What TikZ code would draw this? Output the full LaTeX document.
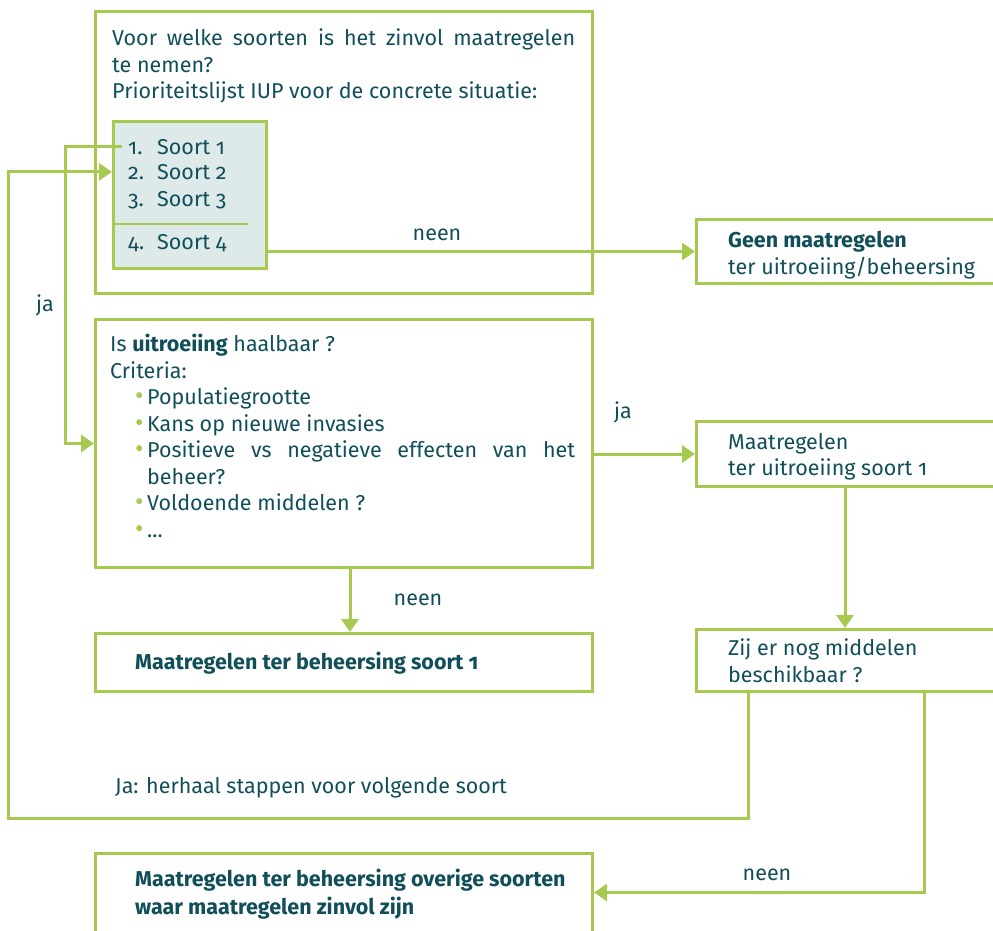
\documentclass[tikz,border=0pt]{standalone}
\usepackage{fontspec}
\setmainfont{Fira Sans}[Numbers=OldStyle]
\usetikzlibrary{arrows.meta}
\definecolor{lgreen}{RGB}{166,202,80}
\definecolor{dteal}{RGB}{16,78,90}
\definecolor{lfill}{RGB}{222,233,233}
\newcommand{\bul}{\hspace*{25pt}\makebox[12pt][l]{\textcolor{lgreen}{\fontsize{26}{26}\selectfont\textbullet}}}
\newcommand{\nr}[1]{\makebox[29pt][l]{#1.}}

\begin{document}
\begin{tikzpicture}[x=1pt, y=-1pt,
    box/.style={draw=lgreen, line width=3pt, inner sep=0pt, anchor=north west},
    txt/.style={text=dteal, inner sep=0pt, anchor=north west, align=left, font=\fontsize{21.5}{26.5}\selectfont},
    lbl/.style={text=dteal, inner sep=0pt, font=\fontsize{21.5}{26}\selectfont},
    flow/.style={draw=lgreen, line width=3pt, -{Triangle[length=13pt,width=17pt]}}]
    \useasboundingbox (0,0) rectangle (993,931);
    \clip (0,0) rectangle (993,931);

    % boxes
    \draw (94,10) node[box, minimum width=497pt, minimum height=282pt] (soorten) {};
    \draw (112,120) node[box, fill=lfill, minimum width=153pt, minimum height=147pt] (lijst) {};
    \draw (695,218) node[box, minimum width=305pt, minimum height=64pt] (geen) {};
    \draw (94,318) node[box, minimum width=497pt, minimum height=248pt] (haalbaar) {};
    \draw (695,420) node[box, minimum width=305pt, minimum height=65pt] (uitroeiing) {};
    \draw (695,628) node[box, minimum width=305pt, minimum height=62pt] (middelen) {};
    \draw (94,632) node[box, minimum width=497pt, minimum height=58pt] (beheersing) {};
    \draw (94,852) node[box, minimum width=497pt, minimum height=82pt] (overige) {};

    % texts
    \node[txt] (vraag) at (112,29) {\makebox[463pt][s]{Voor welke soorten is het zinvol maatregelen}\\te nemen?\\Prioriteitslijst IUP voor de concrete situatie:};
    \node[txt] (s1) at (128,139) {\nr{1}Soort 1};
    \node[txt] (s2) at (128,164) {\nr{2}Soort 2};
    \node[txt] (s3) at (128,191) {\nr{3}Soort 3};
    \node[txt] (s4) at (128,234) {\nr{4}Soort 4};
    \draw[lgreen, line width=1.5pt] (113,224) -- (248,224);
    \node[txt] (geentxt) at (728,231) {\textbf{Geen maatregelen}\\ter uitroeiing/beheersing};
    \node[txt] (criteria) at (110,334) {Is \textbf{uitroeiing} haalbaar ?\\Criteria:\\
        \bul Populatiegrootte\\
        \bul Kans op nieuwe invasies\\
        \bul\makebox[428pt][s]{Positieve vs negatieve effecten van het}\\
        \hspace*{37pt}beheer?\\
        \bul Voldoende middelen ?\\
        \bul ...};
    \node[txt] (uittxt) at (728,433) {Maatregelen\\ter uitroeiing soort 1};
    \node[txt] (midtxt) at (728,639) {Zij er nog middelen\\beschikbaar ?};
    \node[txt] (behtxt) at (135,652) {\textbf{Maatregelen ter beheersing soort 1}};
    \node[txt] (overtxt) at (135,869) {\textbf{Maatregelen ter beheersing overige soorten}\\[1pt]\textbf{waar maatregelen zinvol zijn}};

    % labels
    \node[lbl] (neen1) at (437,235) {neen};
    \node[lbl] (ja1) at (623,412) {ja};
    \node[lbl] (neen2) at (418,600) {neen};
    \node[lbl] (ja2) at (45,305) {ja};
    \node[lbl, anchor=west] (herhaal) at (115,788) {Ja: herhaal stappen voor volgende soort};
    \node[lbl] (neen3) at (767,875) {neen};

    % connectors
    \coordinate (terug) at (8,818);
    \coordinate (jalijn) at (65,0);
    \draw[flow] (lijst.east |- geen.west) -- (geen.west);
    \draw[flow] (haalbaar.east |- uitroeiing.west) -- (uitroeiing.west);
    \draw[flow] ([xshift=-4pt]uitroeiing.south) -- ([xshift=-4pt]middelen.north);
    \draw[flow] ([xshift=6pt]haalbaar.south) -- ([xshift=6pt]beheersing.north);
    \draw[flow] ([xshift=-6pt]s1.west) -| (jalijn |- haalbaar.west) -- (haalbaar.west);
    \draw[flow] ([xshift=53pt]middelen.south west) |- (terug) |- (lijst.west |- s2.center);
    \draw[flow] ([xshift=-79pt]middelen.south east) |- ([yshift=2pt]overige.east);
\end{tikzpicture}
\end{document}
